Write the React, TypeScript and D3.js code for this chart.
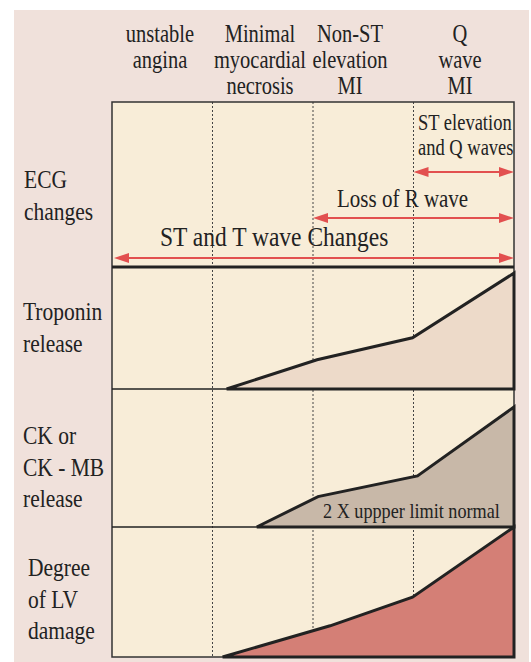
import { useEffect, useRef } from 'react';
import * as d3 from 'd3';

interface Pt {
  stage: number;
  level: number;
}

// column headers (stages of acute coronary syndrome)
const stageLabels = [
  ['unstable', 'angina'],
  ['Minimal', 'myocardial', 'necrosis'],
  ['Non-ST', 'elevation', 'MI'],
  ['Q', 'wave', 'MI'],
];

// row headers
const rowLabels = [
  ['ECG', 'changes'],
  ['Troponin', 'release'],
  ['CK or', 'CK - MB', 'release'],
  ['Degree', 'of LV', 'damage'],
];

// ECG change spans, in stage units
const ecgLabels = [['ST elevation', 'and Q waves'], ['Loss of R wave'], ['ST and T wave Changes']];
const ecgFrom = [3, 2, 0];
const ecgTo = [4, 4, 4];

// marker curves (stage position, relative level)
const troponin: Pt[] = [
  { stage: 1.14, level: 0 },
  { stage: 2.04, level: 0.24 },
  { stage: 2.99, level: 0.42 },
  { stage: 4, level: 0.95 },
];
const ckmb: Pt[] = [
  { stage: 1.44, level: 0 },
  { stage: 2.05, level: 0.22 },
  { stage: 3.04, level: 0.37 },
  { stage: 4, level: 0.87 },
];
const lvDamage: Pt[] = [
  { stage: 1.1, level: 0 },
  { stage: 2.17, level: 0.24 },
  { stage: 2.99, level: 0.46 },
  { stage: 4, level: 1.0 },
];
const ckNote = '2 X uppper limit normal';

export default function App() {
  const svgRef = useRef<SVGSVGElement>(null);
  const width = 531;
  const height = 662;
  const left = 112;
  const right = 514;
  const rowEdges = [102, 267, 389, 527, 657];
  const font = '"Liberation Serif", "Times New Roman", serif';
  const stretch = 1.2; // the source type is tall and narrow

  useEffect(() => {
    if (!svgRef.current) return;
    const svg = d3.select(svgRef.current);
    svg.selectAll('*').remove();

    const x = d3.scaleLinear().domain([0, 4]).range([left, right]);

    const label = (
      tx: number,
      ty: number,
      text: string,
      size: number,
      anchor = 'start'
    ) => {
      svg.append('text')
        .attr('transform', `translate(${tx},${ty}) scale(1,${stretch})`)
        .attr('text-anchor', anchor)
        .style('font-family', font)
        .style('font-size', `${size}px`)
        .style('fill', '#222')
        .text(text);
    };

    // backgrounds
    svg.append('rect')
      .attr('x', 14).attr('y', 10)
      .attr('width', 515).attr('height', height - 10)
      .attr('fill', '#f0e1db');
    svg.append('rect')
      .attr('x', left).attr('y', rowEdges[0])
      .attr('width', right - left).attr('height', rowEdges[4] - rowEdges[0])
      .attr('fill', '#f8edd8');

    // dotted stage separators
    [1, 2, 3].forEach(s => {
      svg.append('line')
        .attr('x1', x(s)).attr('x2', x(s))
        .attr('y1', rowEdges[0]).attr('y2', rowEdges[4])
        .attr('stroke', '#444')
        .attr('stroke-width', 1)
        .attr('stroke-dasharray', '2,2');
    });

    // column headers
    const headerX = [160, 260, 350, 460];
    stageLabels.forEach((lines, i) => {
      lines.forEach((ln, j) => {
        label(headerX[i], 42 + j * 26, ln, 20.5, 'middle');
      });
    });

    // row headers
    const rowBase = [188, 320, 444, 576];
    const rowX = [24, 23, 23, 28];
    rowLabels.forEach((lines, i) => {
      lines.forEach((ln, j) => {
        label(rowX[i], rowBase[i] + j * 31.5, ln, 21.5);
      });
    });

    // marker areas
    const panels: { data: Pt[]; fill: string; row: number }[] = [
      { data: troponin, fill: '#eddac9', row: 1 },
      { data: ckmb, fill: '#c8b8a8', row: 2 },
      { data: lvDamage, fill: '#d47f76', row: 3 },
    ];
    panels.forEach(p => {
      const y = d3.scaleLinear().domain([0, 1]).range([rowEdges[p.row + 1], rowEdges[p.row]]);
      const area = d3.area<Pt>()
        .x(d => x(d.stage))
        .y0(y(0))
        .y1(d => y(d.level));
      svg.append('path')
        .datum(p.data)
        .attr('d', area)
        .attr('fill', p.fill);
    });

    // row dividers + frame
    svg.append('rect')
      .attr('x', left).attr('y', rowEdges[0])
      .attr('width', right - left).attr('height', rowEdges[4] - rowEdges[0])
      .attr('fill', 'none')
      .attr('stroke', '#333')
      .attr('stroke-width', 1.5);
    [2, 3].forEach(r => {
      svg.append('line')
        .attr('x1', left).attr('x2', right)
        .attr('y1', rowEdges[r]).attr('y2', rowEdges[r])
        .attr('stroke', '#222')
        .attr('stroke-width', 1.5);
    });
    svg.append('line')
      .attr('x1', left).attr('x2', right)
      .attr('y1', rowEdges[1]).attr('y2', rowEdges[1])
      .attr('stroke', '#222')
      .attr('stroke-width', 3);

    // outlines over the areas
    panels.forEach(p => {
      const y = d3.scaleLinear().domain([0, 1]).range([rowEdges[p.row + 1], rowEdges[p.row]]);
      const outline = d3.line<Pt>()
        .x(d => x(d.stage))
        .y(d => y(d.level));
      const last = p.data[p.data.length - 1];
      svg.append('path')
        .datum([...p.data, { stage: last.stage, level: 0 }, p.data[0]])
        .attr('d', outline)
        .attr('fill', 'none')
        .attr('stroke', '#222')
        .attr('stroke-width', 3)
        .attr('stroke-linejoin', 'miter');
    });

    label(323, 518, ckNote, 18.2);

    // ECG arrows
    const red = '#e2504f';
    const arrowY = [172, 218, 258];
    const ecgTextX = [418, 337, 160];
    const ecgTextY = [130, 207, 246];
    const ecgSize = [18.5, 21, 23.5];
    const head = 15;
    const half = 5;
    ecgLabels.forEach((lines, i) => {
      const x1 = x(ecgFrom[i]) + (ecgFrom[i] === 0 ? 2 : 0);
      const x2 = x(ecgTo[i]);
      const yy = arrowY[i];
      svg.append('line')
        .attr('x1', x1 + head - 2).attr('x2', x2 - head + 2)
        .attr('y1', yy).attr('y2', yy)
        .attr('stroke', red)
        .attr('stroke-width', 2.2);
      svg.append('path')
        .attr('d', `M${x1},${yy}L${x1 + head},${yy - half}L${x1 + head},${yy + half}Z`)
        .attr('fill', red);
      svg.append('path')
        .attr('d', `M${x2},${yy}L${x2 - head},${yy - half}L${x2 - head},${yy + half}Z`)
        .attr('fill', red);
      lines.forEach((ln, j) => {
        label(ecgTextX[i], ecgTextY[i] + j * 25, ln, ecgSize[i]);
      });
    });
  }, []);

  return (
    <svg
      ref={svgRef}
      width={width}
      height={height}
      viewBox={`0 0 ${width} ${height}`}
      style={{ position: 'absolute', left: 0, top: 0, display: 'block', background: '#fff' }}
    />
  );
}
